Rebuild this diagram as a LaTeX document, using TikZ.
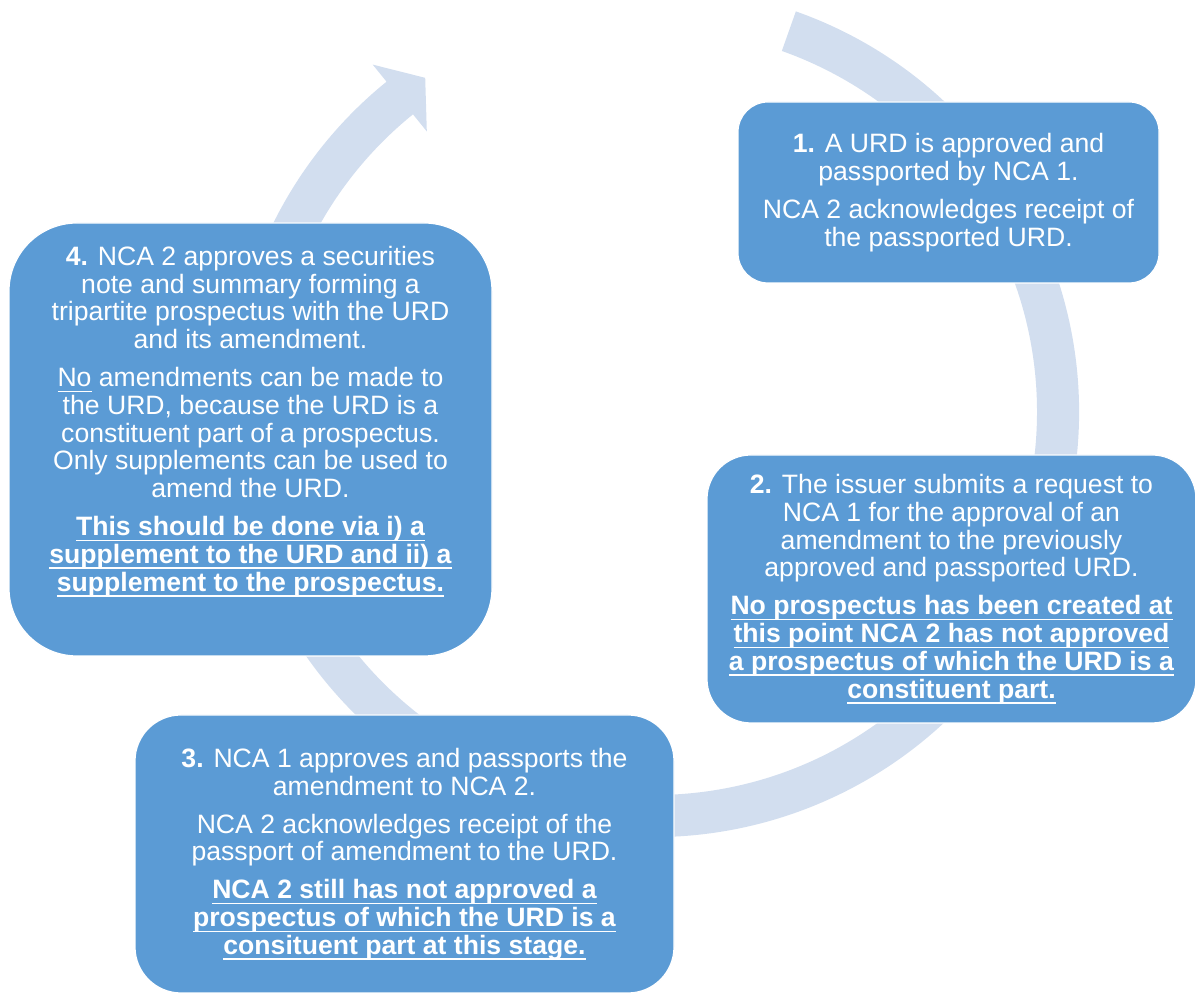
\documentclass[tikz,border=0pt]{standalone}
\usepackage{fontspec}
\setmainfont{Liberation Sans}
\usepackage{xcolor}
\usepackage{tikz}
\usetikzlibrary{calc}
\definecolor{mStepBlue}{HTML}{5B9BD5}
\definecolor{mRingBlue}{HTML}{D2DEEF}
\newcommand{\undl}[1]{\setbox0\hbox{#1}\rlap{\rule[-2.8pt]{\wd0}{0.75pt}}\box0\relax}
\newcommand{\stepnode}[7][]{%
 \node[draw=white, line width=0.6pt, fill=mStepBlue, rounded corners=#6, minimum width=#4, minimum height=#5, inner sep=0pt, align=center, text=white, font=\fontsize{13.3}{13.9}\selectfont, #1] (#2) at (#3) {#7};}

\begin{document}
\begin{tikzpicture}[x=0.5pt,y=0.5pt]
\useasboundingbox (0,0) rectangle (1195,994);
\coordinate (ctr) at (654,582);
% ring arrow behind the steps
\fill[mRingBlue] ($(ctr)+(70.5:212.5pt)$) arc[start angle=70.5, end angle=-231, radius=212.5pt]
 -- ($(ctr)+(-231:223.5pt)$) -- ($(ctr)+(-235.6:202.5pt)$) -- ($(ctr)+(-231:180.5pt)$)
 -- ($(ctr)+(-231:191.5pt)$) arc[start angle=-231, end angle=70.5, radius=191.5pt] -- cycle;
\stepnode{s1}{948.5,801.5}{210.5pt}{90.5pt}{15pt}{\textbf{1.} A URD is approved and\\ passported by NCA 1.\\[5pt]
 NCA 2 acknowledges receipt of\\ the passported URD.}
\stepnode{s2}{951.5,405}{244.5pt}{134pt}{22pt}{\textbf{2.} The issuer submits a request to\\ NCA 1 for the approval of an\\ amendment to the previously\\ approved and passported URD.\\[5pt]
 \undl{\textbf{No prospectus has been created at}}\\ \undl{\textbf{this point NCA 2 has not approved}}\\
 \undl{\textbf{a prospectus of which the URD is a}}\\ \undl{\textbf{constituent part.}}}
\stepnode{s3}{404.5,140}{269.5pt}{139pt}{23pt}{\textbf{3.} NCA 1 approves and passports the\\ amendment to NCA 2.\\[5pt]
 NCA 2 acknowledges receipt of the\\ passport of amendment to the URD.\\[5pt]
 \undl{\textbf{NCA 2 still has not approved a}}\\ \undl{\textbf{prospectus of which the URD is a}}\\ \undl{\textbf{consituent part at this stage.}}}
\stepnode[text depth=21pt]{s4}{250.5,554.5}{241.5pt}{216.5pt}{34pt}{\textbf{4.} NCA 2 approves a securities\\ note and summary forming a\\ tripartite prospectus with the URD\\ and its amendment.\\[5pt]
 \undl{No} amendments can be made to\\ the URD, because the URD is a\\ constituent part of a prospectus.\\ Only supplements can be used to\\ amend the URD.\\[5pt]
 \undl{\textbf{This should be done via i) a}}\\ \undl{\textbf{supplement to the URD and ii) a}}\\ \undl{\textbf{supplement to the prospectus.}}}
\end{tikzpicture}
\end{document}
